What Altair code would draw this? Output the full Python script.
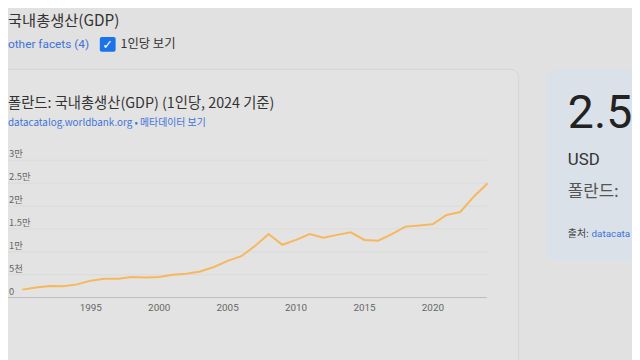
import altair as alt
import pandas as pd

# ---- data ----
years = list(range(1990, 2025))
gdp_per_capita = [1731, 2200, 2500, 2480, 2880, 3690, 4100, 4100, 4490, 4390,
                  4500, 4990, 5200, 5690, 6680, 8020, 9040, 11250, 13900, 11530,
                  12600, 13880, 13100, 13700, 14250, 12600, 12420, 13860, 15500, 15730,
                  16050, 18050, 18700, 22100, 25000]
x_ticks = [1995, 2000, 2005, 2010, 2015, 2020]
y_ticks = [0, 5000, 10000, 15000, 20000, 25000, 30000]
y_tick_labels = ["0", "5천", "1만", "1.5만", "2만", "2.5만", "3만"]

W, H = 632, 352
BG = "#e1e1e1"
KR = "Noto Sans CJK KR"
BLUE = "#3f73d8"

xs = alt.Scale(domain=[1990, 2024], range=[14.5, 485.8], nice=False)
ys = alt.Scale(domain=[0, 30000], range=[291, 152], nice=False, zero=False)

line_df = pd.DataFrame({"year": years, "v": gdp_per_capita})
xt_df = pd.DataFrame({"year": x_ticks})
yt_df = pd.DataFrame({"v": y_ticks, "label": y_tick_labels})


def txt(t, x, y, size, color, align="left", font=KR, weight="normal", baseline="middle"):
    return alt.Chart(pd.DataFrame({"t": [t]})).mark_text(
        align=align, baseline=baseline, fontSize=size, color=color, font=font, fontWeight=weight
    ).encode(x=alt.value(x), y=alt.value(y), text="t:N")


one = pd.DataFrame({"a": [0]})

card = alt.Chart(one).mark_rect(fill="#e3e3e3", stroke="#d4d4d4", cornerRadius=8).encode(
    x=alt.value(-10), x2=alt.value(517), y=alt.value(60), y2=alt.value(420))
side_card = alt.Chart(one).mark_rect(fill="#dbe1e8", cornerRadius=8).encode(
    x=alt.value(545), x2=alt.value(700), y=alt.value(60), y2=alt.value(254))
checkbox = alt.Chart(one).mark_rect(fill="#1a73e8", cornerRadius=2).encode(
    x=alt.value(93), x2=alt.value(109), y=alt.value(27), y2=alt.value(42))

grid = alt.Chart(yt_df[yt_df.v > 0]).mark_rule(color="#dadada", strokeWidth=1).encode(
    y=alt.Y("v:Q", scale=ys, axis=None), x=alt.value(0), x2=alt.value(485))
baseline = alt.Chart(one).mark_rule(color="#bdbdbd", strokeWidth=1).encode(
    y=alt.value(291), x=alt.value(0), x2=alt.value(485))

line = alt.Chart(line_df).mark_line(color="#f7b75c", strokeWidth=2).encode(
    x=alt.X("year:Q", scale=xs, axis=None),
    y=alt.Y("v:Q", scale=ys, axis=None))

xlabels = alt.Chart(xt_df).mark_text(fontSize=10, color="#666666", font="Roboto", baseline="middle").encode(
    x=alt.X("year:Q", scale=xs, axis=None), y=alt.value(302), text=alt.Text("year:Q", format="d"))
ylabels = alt.Chart(yt_df).mark_text(fontSize=9.5, color="#666666", font=KR, align="left", baseline="middle", dy=-6).encode(
    y=alt.Y("v:Q", scale=ys, axis=None), x=alt.value(1), text="label:N")

layers = [
    card, side_card,
    txt("국내총생산(GDP)", 0, 11, 15.5, "#333333"),
    txt("other facets (4)", 0, 34, 12, BLUE, font="Roboto"),
    checkbox,
    txt("✓", 101, 35, 13, "white", align="center", font="DejaVu Sans", weight="bold"),
    txt("1인당 보기", 114, 34, 12.5, "#333333"),
    txt("폴란드: 국내총생산(GDP) (1인당, 2024 기준)", 0, 95, 14.5, "#333333"),
    txt("datacatalog.worldbank.org • 메타데이터 보기", 0, 114, 10, BLUE),
    grid, baseline, line, xlabels, ylabels,
    txt("2.5", 567, 119, 47, "#222222", baseline="alphabetic", font="Roboto"),
    txt("USD", 567, 152, 17, "#333333", font="Roboto"),
    txt("폴란드:", 567, 184, 17, "#555555"),
    txt("출처:", 567, 227, 10, "#444444"),
    txt("datacata", 591, 227, 10, BLUE, font="Roboto"),
]

chart = alt.layer(*layers).properties(
    width=W, height=H,
    autosize=alt.AutoSizeParams(type="none"),
    padding=0,
    background=BG,
).configure_view(stroke=None)

chart.save("out.html", embed_options={"renderer": "svg", "actions": False})
